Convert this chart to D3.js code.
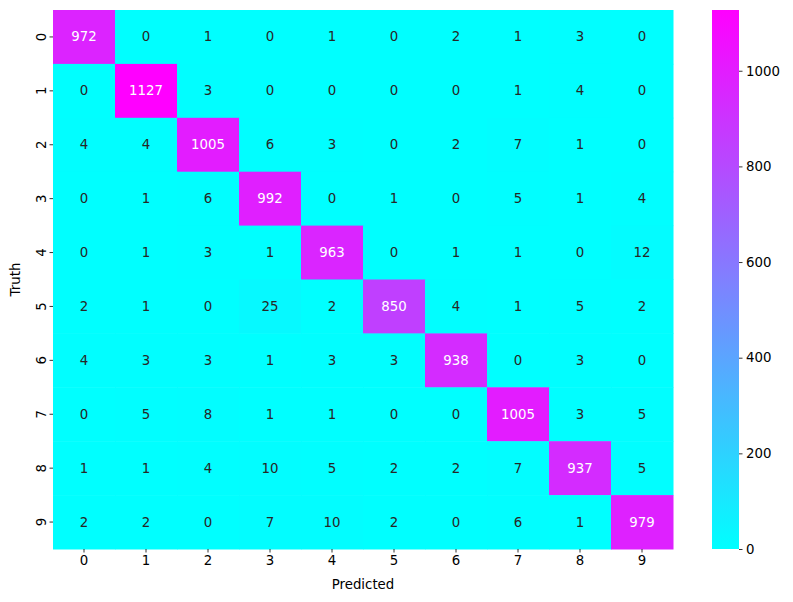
<!DOCTYPE html>
<html><head><meta charset="utf-8">
<script src="https://cdn.jsdelivr.net/npm/d3@7"></script>
<style>body{margin:0;background:#fff}text{font-family:"DejaVu Sans",sans-serif}</style>
</head><body>
<svg id="c" width="793" height="602"></svg>
<script>
const labels = ["0","1","2","3","4","5","6","7","8","9"];
const row0 = [972,0,1,0,1,0,2,1,3,0];
const row1 = [0,1127,3,0,0,0,0,1,4,0];
const row2 = [4,4,1005,6,3,0,2,7,1,0];
const row3 = [0,1,6,992,0,1,0,5,1,4];
const row4 = [0,1,3,1,963,0,1,1,0,12];
const row5 = [2,1,0,25,2,850,4,1,5,2];
const row6 = [4,3,3,1,3,3,938,0,3,0];
const row7 = [0,5,8,1,1,0,0,1005,3,5];
const row8 = [1,1,4,10,5,2,2,7,937,5];
const row9 = [2,2,0,7,10,2,0,6,1,979];
const matrix = [row0,row1,row2,row3,row4,row5,row6,row7,row8,row9];
const cbTicks = [0,200,400,600,800,1000];

const svg = d3.select("#c");
const L=53, T=10, R=673, B=549;
const x = d3.scaleBand().domain(labels).range([L,R]);
const y = d3.scaleBand().domain(labels).range([T,B]);
const vmax = d3.max(matrix.flat());
const interp = t => `rgb(${Math.round(t*255)},${Math.round((1-t)*255)},255)`;
const color = d3.scaleSequential(interp).domain([0,vmax]);

const cells = [];
matrix.forEach((r,i)=>r.forEach((v,j)=>cells.push({i,j,v})));
svg.append("g").selectAll("rect").data(cells).join("rect")
  .attr("x",d=>x(labels[d.j])).attr("y",d=>y(labels[d.i]))
  .attr("width",x.bandwidth()+0.5).attr("height",y.bandwidth()+0.5)
  .attr("fill",d=>color(d.v));
function lum(v){const c=d3.rgb(color(v));const f=u=>{u/=255;return u<=0.03928?u/12.92:Math.pow((u+0.055)/1.055,2.4)};return 0.2126*f(c.r)+0.7152*f(c.g)+0.0722*f(c.b);}
svg.append("g").selectAll("text").data(cells).join("text")
  .attr("x",d=>x(labels[d.j])+x.bandwidth()/2).attr("y",d=>y(labels[d.i])+y.bandwidth()/2)
  .attr("text-anchor","middle").attr("dominant-baseline","central")
  .attr("font-size","13.33px")
  .attr("fill",d=>lum(d.v)>0.408?"#262626":"#ffffff")
  .text(d=>d.v);

const xa = svg.append("g").attr("transform",`translate(0,${B})`).call(d3.axisBottom(x).tickSize(3.5).tickPadding(3.5));
xa.select(".domain").remove();
xa.selectAll("text").attr("font-size","13.33px").attr("fill","#000");
xa.selectAll("line").attr("stroke","#000").attr("stroke-width",0.8);
const ya = svg.append("g").attr("transform",`translate(${L},0)`).call(d3.axisLeft(y).tickSize(3.5).tickPadding(3.5));
ya.select(".domain").remove();
ya.selectAll("line").attr("stroke","#000").attr("stroke-width",0.8);
ya.selectAll("text").attr("font-size","13.33px").attr("fill","#000")
  .attr("text-anchor","middle").attr("dy",null).attr("dominant-baseline","auto")
  .attr("transform","translate(-12,0) rotate(-90)").attr("x",0).attr("y",0)
  .attr("dy","0.35em");

svg.append("text").attr("x",(L+R)/2).attr("y",589).attr("text-anchor","middle").attr("font-size","13.33px").text("Predicted");
svg.append("text").attr("transform",`translate(20,${(T+B)/2}) rotate(-90)`).attr("text-anchor","middle").attr("font-size","13.33px").text("Truth");

// colorbar
const CL=712, CR=739;
const cy = d3.scaleLinear().domain([0,vmax]).range([B,T]);
const defs = svg.append("defs");
const grad = defs.append("linearGradient").attr("id","g").attr("x1","0").attr("y1","1").attr("x2","0").attr("y2","0");
d3.range(0,1.0001,0.1).forEach(t=>grad.append("stop").attr("offset",t).attr("stop-color",interp(t)));
svg.append("rect").attr("x",CL).attr("y",T).attr("width",CR-CL).attr("height",B-T).attr("fill","url(#g)");
const ca = svg.append("g").attr("transform",`translate(${CR},0)`).call(d3.axisRight(cy).tickValues(cbTicks).tickFormat(d3.format("d")).tickSize(3.5).tickPadding(3.5));
ca.select(".domain").remove();
ca.selectAll("line").attr("stroke","#000").attr("stroke-width",0.8);
ca.selectAll("text").attr("font-size","13.33px").attr("fill","#000");
</script>
</body></html>
